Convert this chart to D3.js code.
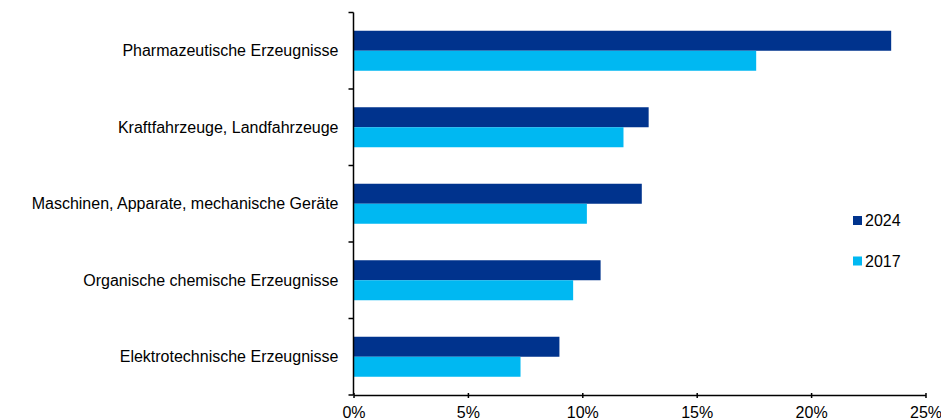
<!DOCTYPE html>
<html>
<head>
<meta charset="utf-8">
<script src="https://cdn.jsdelivr.net/npm/d3@7"></script>
<style>
  html, body { margin: 0; padding: 0; background: #fff; }
  svg { display: block; font-family: Arial, "Liberation Sans", sans-serif; }
</style>
</head>
<body>
<svg id="chart" width="941" height="420"></svg>
<script>
// Product groups (top to bottom) and their shares in percent
const categories = [
  "Pharmazeutische Erzeugnisse",
  "Kraftfahrzeuge, Landfahrzeuge",
  "Maschinen, Apparate, mechanische Geräte",
  "Organische chemische Erzeugnisse",
  "Elektrotechnische Erzeugnisse"
];
const seriesNames = ["2024", "2017"];
const values2024 = [23.5, 12.9, 12.6, 10.8, 9.0];
const values2017 = [17.6, 11.8, 10.2, 9.6, 7.3];
const xTicks = [0, 5, 10, 15, 20, 25];
const colors = { "2024": "#00338D", "2017": "#00B8F2" };

const rows = categories.map((c, i) => ({
  category: c,
  values: [
    { key: "2024", value: values2024[i] },
    { key: "2017", value: values2017[i] }
  ]
}));

const svg = d3.select("#chart");
const margin = { left: 353.5, right: 15.5, top: 12.5, bottom: 25 };
const width = 941 - margin.left - margin.right;
const height = 420 - margin.top - margin.bottom;
const g = svg.append("g").attr("transform", `translate(${margin.left},${margin.top})`);

const x = d3.scaleLinear().domain([0, 25]).range([0, width]);
const y = d3.scaleBand().domain(categories).range([0, height]);
const inner = d3.scaleBand().domain(seriesNames).range([0, 40]);
const groupOffset = (y.bandwidth() - 40) / 2;

// Bars
const groups = g.selectAll("g.cat").data(rows).join("g")
  .attr("class", "cat")
  .attr("transform", d => `translate(0,${y(d.category) + groupOffset})`);

groups.selectAll("rect").data(d => d.values).join("rect")
  .attr("x", 0)
  .attr("y", d => inner(d.key))
  .attr("width", d => x(d.value))
  .attr("height", inner.bandwidth())
  .attr("fill", d => colors[d.key]);

// Y axis: category separators as outward ticks
const yAxisG = g.append("g");
yAxisG.append("line")
  .attr("x1", 0).attr("x2", 0).attr("y1", 0).attr("y2", height)
  .attr("stroke", "#000").attr("stroke-width", 1.5);
const sepPositions = categories.map(c => y(c)).concat([height]);
yAxisG.selectAll("line.sep").data(sepPositions).join("line")
  .attr("class", "sep")
  .attr("x1", -5).attr("x2", 0)
  .attr("y1", d => d).attr("y2", d => d)
  .attr("stroke", "#000").attr("stroke-width", 1.5);

// Category labels
g.append("g").selectAll("text").data(categories).join("text")
  .attr("x", -15)
  .attr("y", d => y(d) + y.bandwidth() / 2)
  .attr("dy", "0.35em")
  .attr("text-anchor", "end")
  .attr("font-size", 16)
  .attr("fill", "#000")
  .text(d => d);

// X axis
const xAxis = d3.axisBottom(x)
  .tickValues(xTicks)
  .tickFormat(d => d + "%")
  .tickSize(3)
  .tickSizeOuter(0);
const xAxisG = g.append("g")
  .attr("transform", `translate(0,${height})`)
  .call(xAxis);
xAxisG.select(".domain").attr("stroke", "#000").attr("stroke-width", 1.5);
xAxisG.selectAll(".tick line")
  .attr("y1", -2)
  .attr("stroke", "#000").attr("stroke-width", 1.5);
xAxisG.selectAll(".tick text")
  .attr("font-size", 16)
  .attr("font-family", "Arial, 'Liberation Sans', sans-serif")
  .attr("fill", "#000")
  .attr("y", 23)
  .attr("dy", 0);

// Legend
const legend = svg.append("g").attr("transform", "translate(853,0)");
const legendY = { "2024": 220.5, "2017": 261 };
seriesNames.forEach(k => {
  legend.append("rect")
    .attr("x", 0).attr("y", legendY[k] - 4.5)
    .attr("width", 9).attr("height", 9)
    .attr("fill", colors[k]);
  legend.append("text")
    .attr("x", 12).attr("y", legendY[k])
    .attr("dy", "0.35em")
    .attr("font-size", 16)
    .attr("fill", "#000")
    .text(k);
});
</script>
</body>
</html>
